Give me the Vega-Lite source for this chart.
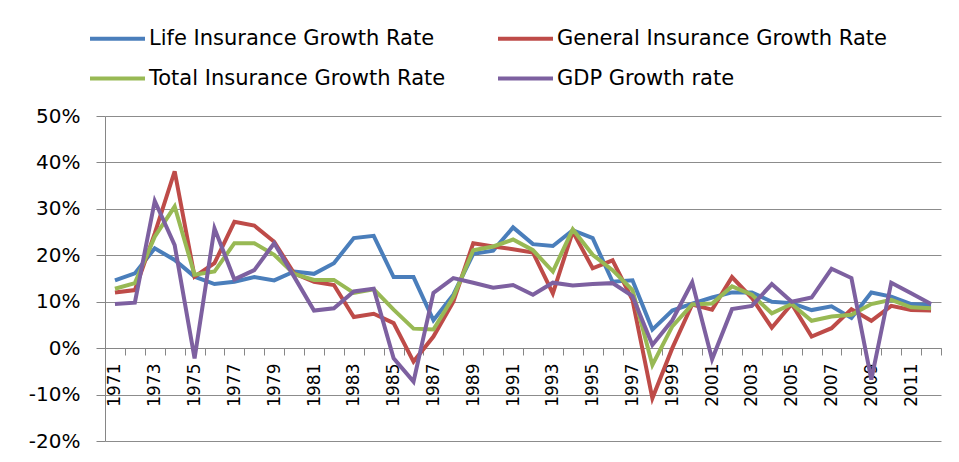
{
  "$schema": "https://vega.github.io/schema/vega-lite/v6.json",
  "width": 836,
  "height": 325,
  "autosize": {"type": "none"},
  "padding": {"left": 105, "top": 116, "right": 18, "bottom": 21},
  "background": "white",
  "config": {"view": {"stroke": null}, "font": "DejaVu Sans"},
  "data": {"values": [
    {"year": 1971, "Life Insurance Growth Rate": 0.146, "General Insurance Growth Rate": 0.120, "Total Insurance Growth Rate": 0.128, "GDP Growth rate": 0.095},
    {"year": 1972, "Life Insurance Growth Rate": 0.161, "General Insurance Growth Rate": 0.125, "Total Insurance Growth Rate": 0.140, "GDP Growth rate": 0.098},
    {"year": 1973, "Life Insurance Growth Rate": 0.215, "General Insurance Growth Rate": 0.247, "Total Insurance Growth Rate": 0.240, "GDP Growth rate": 0.317},
    {"year": 1974, "Life Insurance Growth Rate": 0.190, "General Insurance Growth Rate": 0.381, "Total Insurance Growth Rate": 0.305, "GDP Growth rate": 0.222},
    {"year": 1975, "Life Insurance Growth Rate": 0.154, "General Insurance Growth Rate": 0.154, "Total Insurance Growth Rate": 0.158, "GDP Growth rate": -0.022},
    {"year": 1976, "Life Insurance Growth Rate": 0.138, "General Insurance Growth Rate": 0.183, "Total Insurance Growth Rate": 0.165, "GDP Growth rate": 0.258},
    {"year": 1977, "Life Insurance Growth Rate": 0.143, "General Insurance Growth Rate": 0.272, "Total Insurance Growth Rate": 0.226, "GDP Growth rate": 0.148},
    {"year": 1978, "Life Insurance Growth Rate": 0.153, "General Insurance Growth Rate": 0.264, "Total Insurance Growth Rate": 0.226, "GDP Growth rate": 0.168},
    {"year": 1979, "Life Insurance Growth Rate": 0.146, "General Insurance Growth Rate": 0.229, "Total Insurance Growth Rate": 0.201, "GDP Growth rate": 0.226},
    {"year": 1980, "Life Insurance Growth Rate": 0.165, "General Insurance Growth Rate": 0.161, "Total Insurance Growth Rate": 0.160, "GDP Growth rate": 0.154},
    {"year": 1981, "Life Insurance Growth Rate": 0.160, "General Insurance Growth Rate": 0.143, "Total Insurance Growth Rate": 0.147, "GDP Growth rate": 0.081},
    {"year": 1982, "Life Insurance Growth Rate": 0.183, "General Insurance Growth Rate": 0.136, "Total Insurance Growth Rate": 0.147, "GDP Growth rate": 0.086},
    {"year": 1983, "Life Insurance Growth Rate": 0.237, "General Insurance Growth Rate": 0.067, "Total Insurance Growth Rate": 0.119, "GDP Growth rate": 0.122},
    {"year": 1984, "Life Insurance Growth Rate": 0.242, "General Insurance Growth Rate": 0.074, "Total Insurance Growth Rate": 0.127, "GDP Growth rate": 0.128},
    {"year": 1985, "Life Insurance Growth Rate": 0.153, "General Insurance Growth Rate": 0.054, "Total Insurance Growth Rate": 0.083, "GDP Growth rate": -0.022},
    {"year": 1986, "Life Insurance Growth Rate": 0.153, "General Insurance Growth Rate": -0.029, "Total Insurance Growth Rate": 0.042, "GDP Growth rate": -0.072},
    {"year": 1987, "Life Insurance Growth Rate": 0.060, "General Insurance Growth Rate": 0.025, "Total Insurance Growth Rate": 0.040, "GDP Growth rate": 0.119},
    {"year": 1988, "Life Insurance Growth Rate": 0.115, "General Insurance Growth Rate": 0.100, "Total Insurance Growth Rate": 0.110, "GDP Growth rate": 0.151},
    {"year": 1989, "Life Insurance Growth Rate": 0.203, "General Insurance Growth Rate": 0.226, "Total Insurance Growth Rate": 0.211, "GDP Growth rate": 0.141},
    {"year": 1990, "Life Insurance Growth Rate": 0.210, "General Insurance Growth Rate": 0.219, "Total Insurance Growth Rate": 0.219, "GDP Growth rate": 0.130},
    {"year": 1991, "Life Insurance Growth Rate": 0.260, "General Insurance Growth Rate": 0.213, "Total Insurance Growth Rate": 0.234, "GDP Growth rate": 0.136},
    {"year": 1992, "Life Insurance Growth Rate": 0.224, "General Insurance Growth Rate": 0.206, "Total Insurance Growth Rate": 0.211, "GDP Growth rate": 0.115},
    {"year": 1993, "Life Insurance Growth Rate": 0.220, "General Insurance Growth Rate": 0.118, "Total Insurance Growth Rate": 0.165, "GDP Growth rate": 0.141},
    {"year": 1994, "Life Insurance Growth Rate": 0.254, "General Insurance Growth Rate": 0.251, "Total Insurance Growth Rate": 0.256, "GDP Growth rate": 0.135},
    {"year": 1995, "Life Insurance Growth Rate": 0.237, "General Insurance Growth Rate": 0.172, "Total Insurance Growth Rate": 0.201, "GDP Growth rate": 0.138},
    {"year": 1996, "Life Insurance Growth Rate": 0.143, "General Insurance Growth Rate": 0.189, "Total Insurance Growth Rate": 0.168, "GDP Growth rate": 0.140},
    {"year": 1997, "Life Insurance Growth Rate": 0.146, "General Insurance Growth Rate": 0.104, "Total Insurance Growth Rate": 0.125, "GDP Growth rate": 0.112},
    {"year": 1998, "Life Insurance Growth Rate": 0.040, "General Insurance Growth Rate": -0.108, "Total Insurance Growth Rate": -0.036, "GDP Growth rate": 0.007},
    {"year": 1999, "Life Insurance Growth Rate": 0.081, "General Insurance Growth Rate": 0.000, "Total Insurance Growth Rate": 0.047, "GDP Growth rate": 0.060},
    {"year": 2000, "Life Insurance Growth Rate": 0.096, "General Insurance Growth Rate": 0.094, "Total Insurance Growth Rate": 0.094, "GDP Growth rate": 0.142},
    {"year": 2001, "Life Insurance Growth Rate": 0.109, "General Insurance Growth Rate": 0.083, "Total Insurance Growth Rate": 0.096, "GDP Growth rate": -0.024},
    {"year": 2002, "Life Insurance Growth Rate": 0.120, "General Insurance Growth Rate": 0.153, "Total Insurance Growth Rate": 0.133, "GDP Growth rate": 0.084},
    {"year": 2003, "Life Insurance Growth Rate": 0.120, "General Insurance Growth Rate": 0.108, "Total Insurance Growth Rate": 0.115, "GDP Growth rate": 0.091},
    {"year": 2004, "Life Insurance Growth Rate": 0.100, "General Insurance Growth Rate": 0.044, "Total Insurance Growth Rate": 0.075, "GDP Growth rate": 0.138},
    {"year": 2005, "Life Insurance Growth Rate": 0.097, "General Insurance Growth Rate": 0.095, "Total Insurance Growth Rate": 0.095, "GDP Growth rate": 0.100},
    {"year": 2006, "Life Insurance Growth Rate": 0.082, "General Insurance Growth Rate": 0.025, "Total Insurance Growth Rate": 0.059, "GDP Growth rate": 0.109},
    {"year": 2007, "Life Insurance Growth Rate": 0.090, "General Insurance Growth Rate": 0.043, "Total Insurance Growth Rate": 0.068, "GDP Growth rate": 0.171},
    {"year": 2008, "Life Insurance Growth Rate": 0.065, "General Insurance Growth Rate": 0.084, "Total Insurance Growth Rate": 0.072, "GDP Growth rate": 0.151},
    {"year": 2009, "Life Insurance Growth Rate": 0.120, "General Insurance Growth Rate": 0.059, "Total Insurance Growth Rate": 0.095, "GDP Growth rate": -0.068},
    {"year": 2010, "Life Insurance Growth Rate": 0.111, "General Insurance Growth Rate": 0.091, "Total Insurance Growth Rate": 0.104, "GDP Growth rate": 0.141},
    {"year": 2011, "Life Insurance Growth Rate": 0.095, "General Insurance Growth Rate": 0.082, "Total Insurance Growth Rate": 0.088, "GDP Growth rate": 0.118},
    {"year": 2012, "Life Insurance Growth Rate": 0.093, "General Insurance Growth Rate": 0.081, "Total Insurance Growth Rate": 0.086, "GDP Growth rate": 0.095}
  ]},
  "transform": [
    {"fold": ["Life Insurance Growth Rate", "General Insurance Growth Rate", "Total Insurance Growth Rate", "GDP Growth rate"], "as": ["series", "value"]}
  ],
  "mark": {"type": "line", "strokeWidth": 4},
  "encoding": {
    "x": {
      "field": "year", "type": "ordinal", "bandPosition": 0.5,
      "scale": {"type": "band", "paddingInner": 0, "paddingOuter": 0},
      "axis": {
        "title": null, "offset": -93, "tickBand": "extent", "tickSize": 7,
        "labelAngle": -90, "labelAlign": "right", "labelBaseline": "middle",
        "labelPadding": 8, "labelFont": "DejaVu Sans", "labelFontSize": 17, "labelColor": "#000",
        "labelExpr": "(datum.value - 1971) % 2 == 0 ? datum.label : ''",
        "labelOverlap": false, "domainColor": "#868686", "tickColor": "#868686", "grid": false
      }
    },
    "y": {
      "field": "value", "type": "quantitative",
      "scale": {"domain": [-0.2, 0.5], "nice": false, "zero": false},
      "axis": {
        "title": null, "values": [-0.2, -0.1, 0, 0.1, 0.2, 0.3, 0.4, 0.5],
        "labelExpr": "round(datum.value * 100) + '%'",
        "tickSize": 9, "labelPadding": 16, "labelFont": "DejaVu Sans", "labelFontSize": 20, "labelColor": "#000",
        "gridColor": "#8c8c8c", "domainColor": "#868686", "tickColor": "#868686"
      }
    },
    "color": {
      "field": "series", "type": "nominal",
      "scale": {
        "domain": ["Life Insurance Growth Rate", "General Insurance Growth Rate", "Total Insurance Growth Rate", "GDP Growth rate"],
        "range": ["#4a7ebb", "#be4b48", "#98b954", "#7d60a0"]
      },
      "legend": {
        "title": null, "orient": "none", "legendX": -17, "legendY": -107, "padding": 0,
        "columns": 2, "direction": "horizontal", "symbolType": "stroke", "symbolSize": 3025,
        "symbolStrokeWidth": 4, "labelFont": "DejaVu Sans", "labelFontSize": 21, "labelColor": "#000",
        "labelOffset": 2, "columnPadding": 44, "rowPadding": 0, "labelLimit": 0
      }
    }
  }
}
